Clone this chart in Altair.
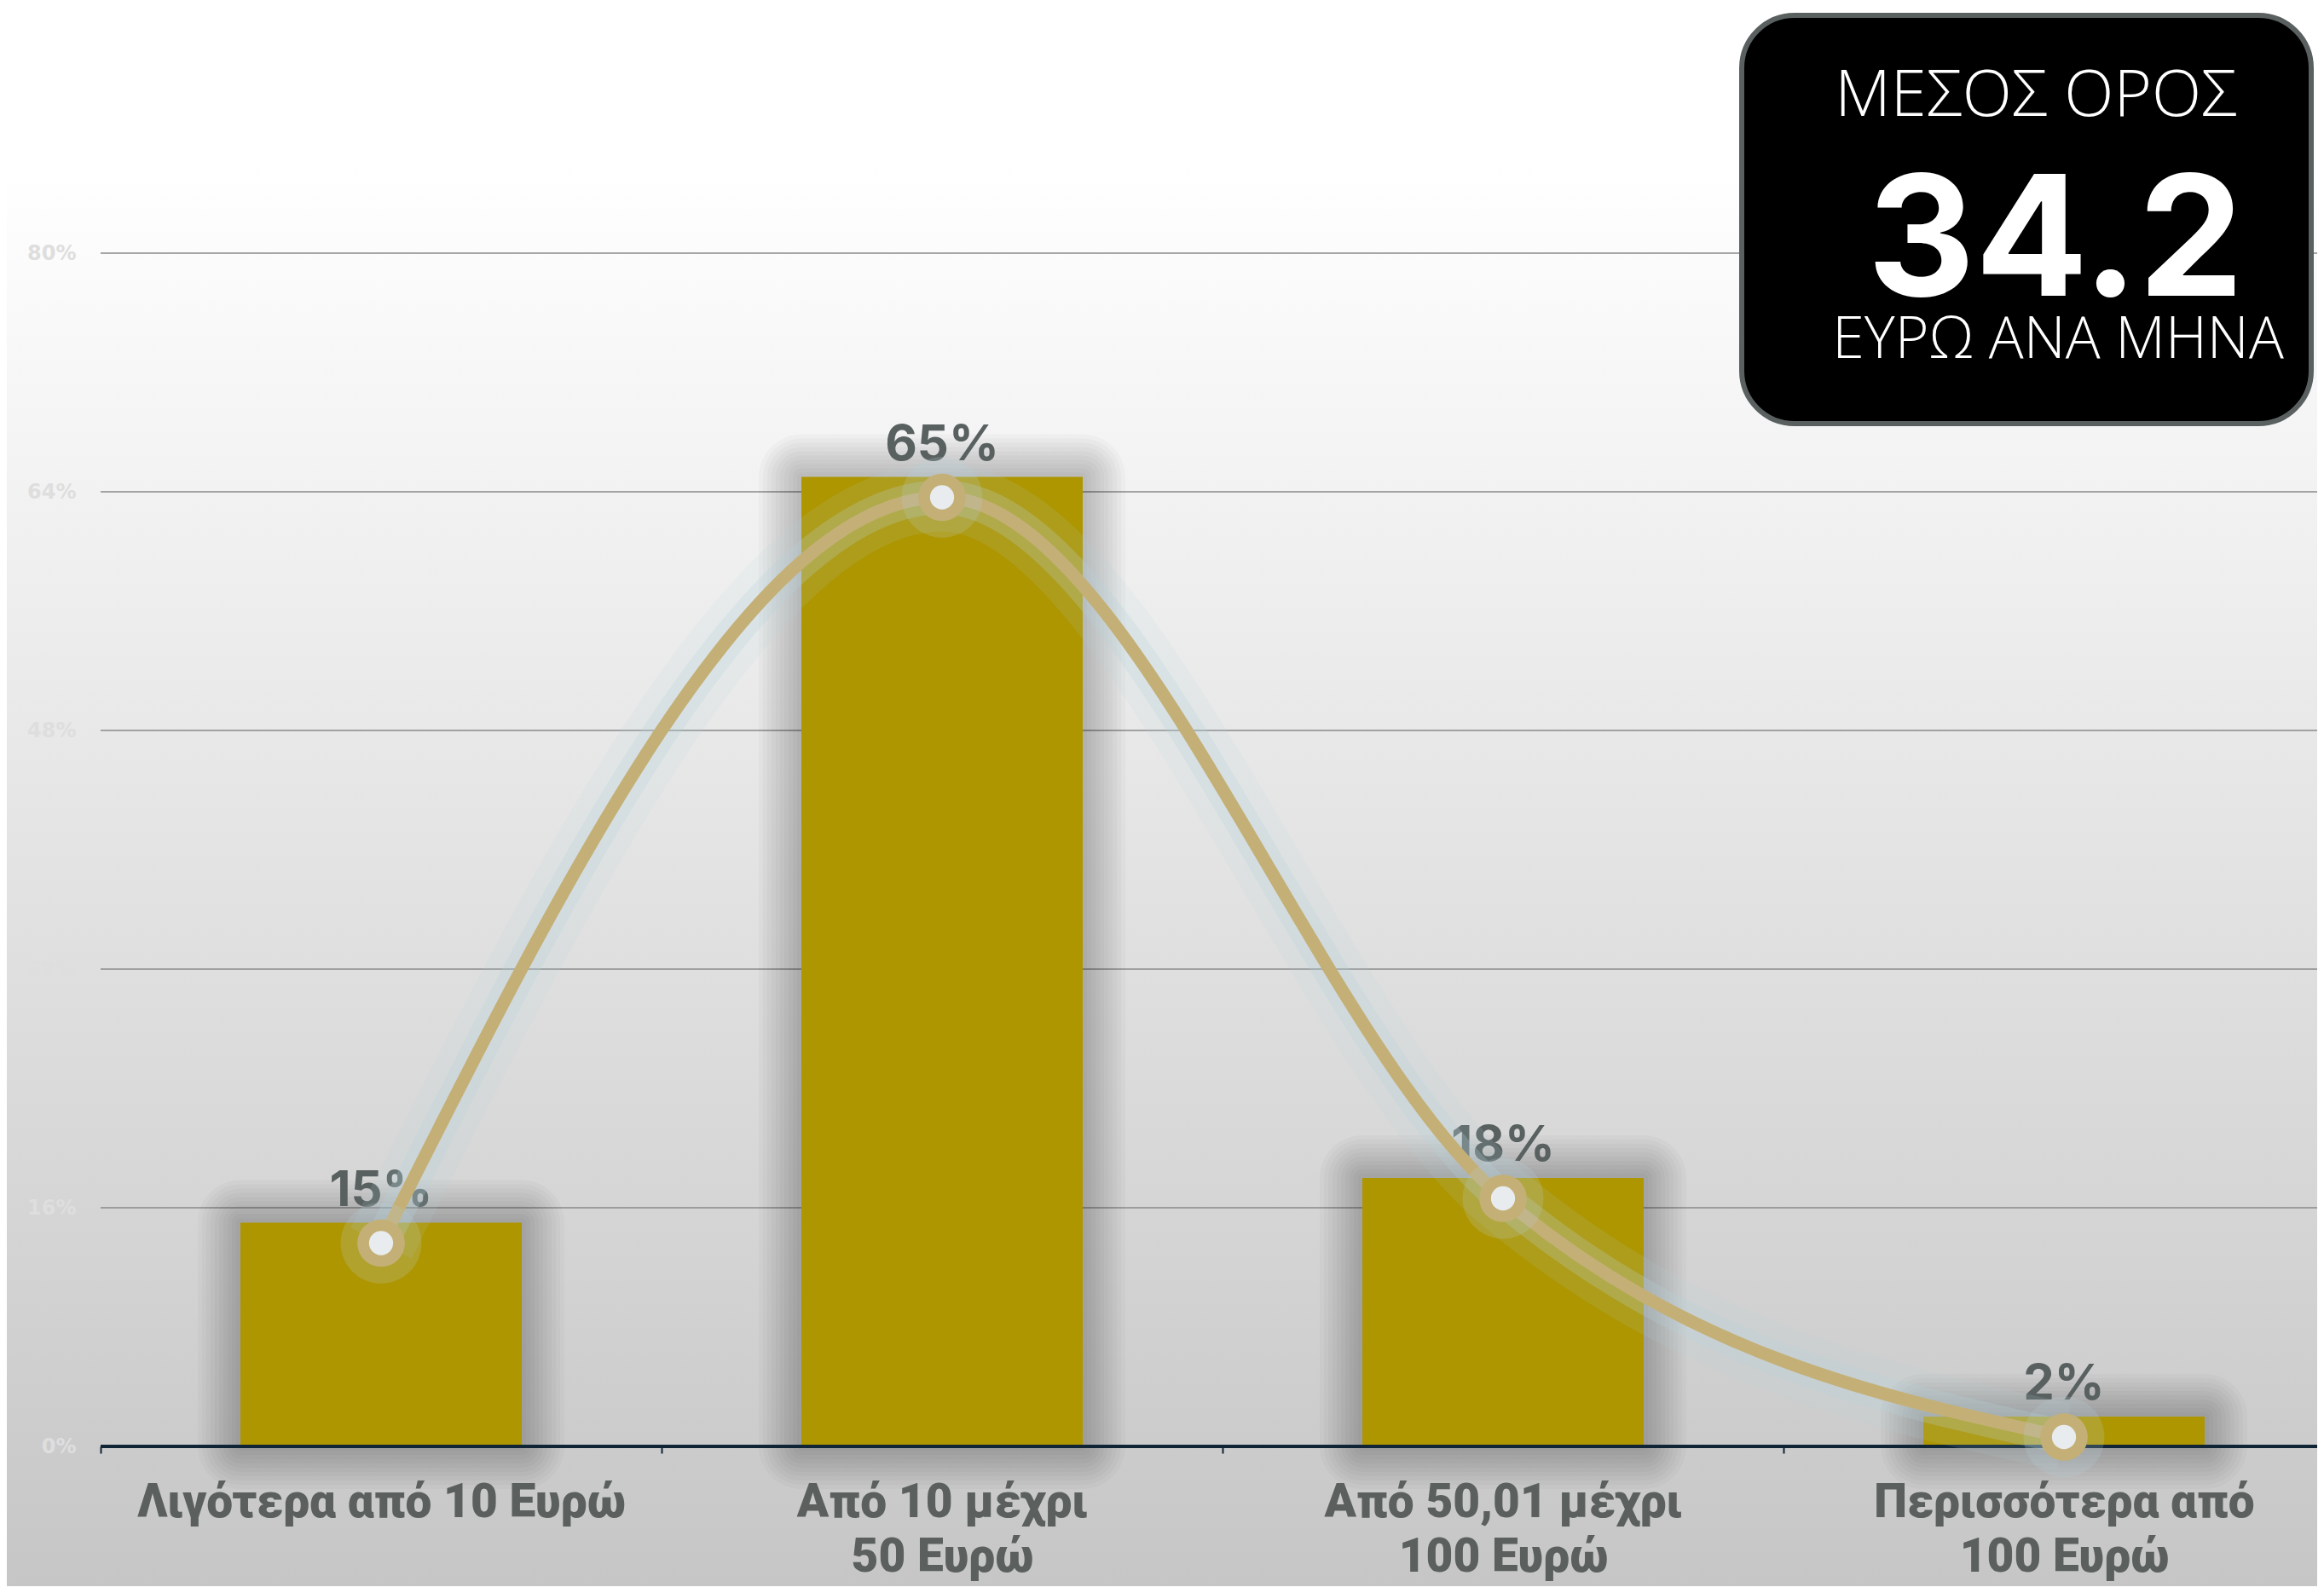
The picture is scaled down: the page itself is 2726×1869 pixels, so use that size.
import altair as alt
import pandas as pd

# ---- data ----
categories = ["Λιγότερα από 10 Ευρώ", "Από 10 μέχρι|50 Ευρώ",
              "Από 50,01 μέχρι|100 Ευρώ", "Περισσότερα από|100 Ευρώ"]
shares = [15, 65, 18, 2]
value_labels = ["15%", "65%", "18%", "2%"]
y_ticks = [0, 16, 32, 48, 64, 80]
grid_values = [16, 32, 48, 64, 80]
box_title = "ΜΕΣΟΣ ΟΡΟΣ"
box_value = "34.2"
box_unit = "ΕΥΡΩ ΑΝΑ ΜΗΝΑ"

df = pd.DataFrame({"cat": categories, "share": shares, "label": value_labels})
grid_df = pd.DataFrame({"g": grid_values})
one = pd.DataFrame({"k": [0]})

W, H = 2600, 1400
BAR = "#ae9600"
LINE = "#c4b077"
LABEL_FONT = "Roboto"

xscale = alt.Scale(range=[0, 2632], paddingInner=0, paddingOuter=0)
yscale = alt.Scale(domain=[0, 80], nice=False, zero=True)

x_axis = alt.Axis(title=None, domain=False, grid=False, ticks=True, tickBand="extent",
                  tickSize=8, tickWidth=2, tickColor="#0f2535",
                  labelExpr="split(datum.label, '|')", labelFont=LABEL_FONT,
                  labelFontSize=55, labelFontWeight=900, labelColor="#5b605f",
                  labelLineHeight=64, labelPadding=31, labelAngle=0, labelLimit=0,
                  zindex=1)
y_axis = alt.Axis(title=None, values=y_ticks, labelExpr="datum.value + '%'",
                  domain=False, ticks=False, grid=False, labelFont="DejaVu Sans",
                  labelFontWeight="bold", labelFontSize=24, labelColor="#dedede",
                  labelPadding=29, labelBaseline="middle", zindex=1)

X = alt.X("cat:N", sort=categories, scale=xscale, axis=x_axis)
Y = alt.Y("share:Q", scale=yscale, axis=y_axis)

grad = alt.Gradient(gradient="linear", x1=0, x2=0, y1=0, y2=1,
                    stops=[alt.GradientStop(offset=0, color="#ffffff"),
                           alt.GradientStop(offset=0.1, color="#ffffff"),
                           alt.GradientStop(offset=1, color="#c6c6c6")])

background = alt.Chart(one).mark_rect(fill=grad).encode(
    x=alt.value(-110), x2=alt.value(W + 10), y=alt.value(-289), y2=alt.value(H + 164))

grid = alt.Chart(grid_df).mark_rule(color="#8a8a8a", strokeWidth=1.5).encode(
    y=alt.Y("g:Q", scale=yscale, axis=y_axis), x=alt.value(0), x2=alt.value(W))

base = alt.Chart(df)

shadows = []
for d in range(50, 0, -5):
    shadows.append(base.mark_bar(size=330 + 2 * d, color="black", opacity=0.022,
                                 cornerRadius=d, yOffset=-d, y2Offset=d)
                   .encode(x=X, y=Y, y2=alt.datum(0)))

bars = base.mark_bar(size=330, color=BAR).encode(x=X, y=Y, y2=alt.datum(0))

baseline = alt.Chart(one).mark_rule(color="#0f2535", strokeWidth=4).encode(
    y=alt.value(H), x=alt.value(0), x2=alt.value(W))

bar_text = base.mark_text(dy=-20, baseline="alphabetic", font="Inter", fontWeight="bold",
                          fontSize=58, color="#596160").encode(x=X, y=Y, text="label:N")

glow2 = base.mark_line(interpolate="monotone", strokeWidth=80, color="#b9d3da",
                       opacity=0.12, yOffset=24).encode(x=X, y=Y)
glow1 = base.mark_line(interpolate="monotone", strokeWidth=40, color="#b9d3da",
                       opacity=0.25, yOffset=24).encode(x=X, y=Y)
line = base.mark_line(interpolate="monotone", strokeWidth=15, color=LINE,
                      yOffset=24).encode(x=X, y=Y)
pglow = base.mark_circle(size=9000, color="#b9d3da", opacity=0.2, yOffset=24).encode(x=X, y=Y)
pout = base.mark_circle(size=3100, color=LINE, opacity=1, yOffset=24).encode(x=X, y=Y)
pin = base.mark_circle(size=800, color="#e8ecef", opacity=1, yOffset=24).encode(x=X, y=Y)

box = alt.Chart(one).mark_rect(fill="black", stroke="#5a605f", strokeWidth=6,
                               cornerRadius=62).encode(
    x=alt.value(1925), x2=alt.value(2593), y=alt.value(-279), y2=alt.value(200))
t1 = alt.Chart(one).mark_text(text=box_title, font="Open Sans", fontWeight=300,
                              fontSize=76, color="white", align="center",
                              baseline="alphabetic").encode(x=alt.value(2270), y=alt.value(-161))
t2 = alt.Chart(one).mark_text(text=box_value, font="Inter", fontWeight="bold",
                              fontSize=196, color="white", align="center",
                              baseline="alphabetic").encode(x=alt.value(2293), y=alt.value(50))
t3 = alt.Chart(one).mark_text(text=box_unit, font="Open Sans", fontWeight=300,
                              fontSize=68, color="white", align="center",
                              baseline="alphabetic").encode(x=alt.value(2296), y=alt.value(123))

chart = alt.layer(background, grid, *shadows, bars, baseline, bar_text,
                  glow2, glow1, line, pglow, pout, pin, box, t1, t2, t3).properties(
    width=W, height=H,
    autosize=alt.AutoSizeParams(type="none"),
    padding={"left": 110, "top": 289, "right": 0, "bottom": 164},
).configure_view(stroke=None)

chart.save("out.html", embed_options={"renderer": "svg", "actions": False})
